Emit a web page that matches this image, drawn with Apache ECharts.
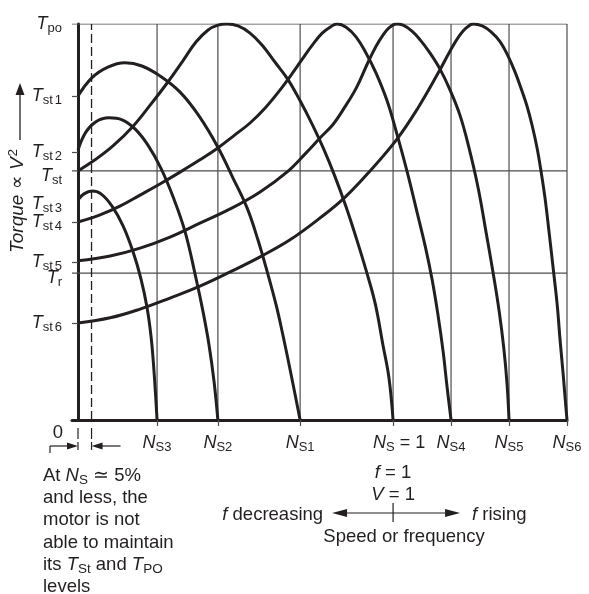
<!DOCTYPE html>
<html><head><meta charset="utf-8">
<script src="https://cdn.jsdelivr.net/npm/echarts@6/dist/echarts.min.js"></script>
<style>html,body{margin:0;padding:0;background:#fff}#c{width:589px;height:594px}</style>
</head><body><div id="c"></div>
<script>
// ---- data (speed in % of base synchronous speed N_S = 1; torque in % of T_po) ----
const speedMarks = [25.1, 44.4, 70.5, 100, 118.4, 136.8, 155.2];
const speedMarkSubs = ['S3', 'S2', 'S1', 'S', 'S4', 'S5', 'S6'];
const torqueMarks = [24.5, 37.1, 39.9, 50.0, 55.3, 62.9, 67.7, 81.8, 100];
const torqueMarkSubs = ['st6', 'r', 'st5', 'st4', 'st3', 'st', 'st2', 'st1', 'po'];
const torqueTickMarks = [24.5, 39.9, 50.0, 67.7, 81.8];
const refTorqueLines = [37.1, 62.9, 100];   // T_r, T_st, T_po
const lowSpeedLimit = 4.3;
const speedStart = -1.9;
const speedEnd = 155.2;

const curveNS3 = [[0,55.6],[1.9,57.1],[4.4,57.8],[7.3,57.1],[10.8,54.0],[14.3,49.0],[17.5,42.4],[20.0,35.6],[21.9,28.5],[23.2,21.0],[24.1,12.6],[25.1,0]];
const curveNS2 = [[0,68.2],[2.5,72.7],[5.7,75.3],[9.8,76.3],[14.0,75.8],[18.1,73.5],[22.2,69.4],[26.3,63.6],[30.2,56.3],[34.0,47.5],[37.5,35.6],[39.7,27.3],[41.6,18.9],[43.2,9.6],[44.4,0]];
const curveNS1 = [[0,81.8],[4.4,86.4],[9.5,89.1],[14.9,90.2],[20.3,89.4],[26.0,86.9],[32.4,82.8],[38.4,76.8],[44.4,68.9],[49.2,61.1],[53.7,53.5],[57.1,45.5],[60.0,37.6],[62.9,29.0],[65.1,21.2],[67.6,11.6],[70.5,0]];
const curveNS0 = [[0,62.9],[5.4,65.7],[11.1,69.2],[17.5,74.2],[22.9,79.5],[28.3,85.1],[33.3,90.7],[37.5,95.5],[41.3,98.5],[44.4,99.7],[47.3,100],[50.8,99.5],[54.6,97.7],[58.4,94.7],[62.5,90.4],[66.7,85.9],[70.5,80.6],[74.3,74.7],[78.1,68.2],[81.6,61.4],[85.1,53.8],[88.3,46.0],[91.4,37.9],[94.3,29.5],[96.8,18.9],[98.7,10.6],[100,0]];
const curveNS4 = [[0,50.0],[7.0,51.8],[13.3,54.0],[19.7,56.8],[26.0,59.6],[32.4,62.6],[38.7,65.7],[44.4,68.7],[49.8,72.0],[54.6,75.0],[59.4,78.8],[64.1,83.3],[67.9,87.4],[71.4,91.4],[74.6,94.9],[77.5,97.7],[80.0,99.2],[82.2,100],[85.1,99.2],[88.3,96.7],[91.4,92.7],[94.6,87.6],[98.1,80.6],[101.3,72.0],[104.4,62.9],[107.6,52.5],[110.2,43.9],[112.4,35.4],[114.3,26.3],[115.9,17.2],[117.1,8.6],[118.4,0]];
const curveNS5 = [[0,40.2],[10.2,41.4],[19.7,43.4],[29.2,46.2],[38.7,49.7],[48.3,53.3],[57.8,57.6],[66.3,62.6],[72.1,67.2],[76.8,71.2],[81.0,74.7],[84.1,78.3],[88.3,83.8],[92.1,90.4],[94.6,94.4],[96.8,97.2],[98.7,99.0],[101.0,100],[103.2,99.7],[106.0,98.2],[108.6,96.0],[111.7,92.7],[114.9,88.6],[118.1,83.3],[121.3,76.8],[124.1,68.7],[127.0,58.6],[129.5,47.5],[131.7,37.4],[133.7,27.3],[135.2,17.7],[136.2,8.8],[136.8,0]];
const curveNS6 = [[0,24.5],[10.2,25.8],[19.7,28.0],[29.2,30.8],[38.7,33.8],[48.3,37.4],[57.8,41.2],[67.3,45.5],[76.8,51.0],[84.8,56.3],[92.7,62.9],[101.3,71.0],[107.9,78.8],[114.3,87.6],[118.1,93.2],[121.0,97.0],[123.2,99.0],[125.4,100],[128.3,99.5],[131.1,98.0],[134.0,95.5],[136.5,91.9],[138.7,87.9],[140.6,83.8],[142.5,79.3],[144.1,74.5],[145.7,68.7],[147.0,62.6],[148.3,55.6],[149.5,47.5],[150.8,38.4],[152.1,29.0],[153.0,20.2],[154.0,11.4],[154.6,5.6],[155.2,0]];
const curves = [curveNS3, curveNS2, curveNS1, curveNS0, curveNS4, curveNS5, curveNS6];

// ---- styling ----
const INK = '#231f20';
const GRIDC = '#4d4d4d';
const F = '"Liberation Sans", Arial, Helvetica, sans-serif';
const BIG = 18, SUB = 13, NOTE = 18.5;

const chart = echarts.init(document.getElementById('c'), null, {renderer: 'canvas'});

const series = [];
speedMarks.forEach(x => series.push({
  type: 'line', data: [[x, 0], [x, 100]], symbol: 'none', silent: true, z: 1,
  lineStyle: {color: GRIDC, width: 1.2}
}));
refTorqueLines.forEach(y => series.push({
  type: 'line', data: [[speedStart, y], [speedEnd, y]], symbol: 'none', silent: true, z: 1,
  lineStyle: {color: GRIDC, width: 1.2}
}));
series.push({
  type: 'line', data: [[lowSpeedLimit, 0], [lowSpeedLimit, 100]], symbol: 'none', silent: true, z: 1,
  lineStyle: {color: INK, width: 1.3, type: [9, 4]}
});
curves.forEach(c => series.push({
  type: 'line', data: c, symbol: 'none', smooth: 0.4, silent: true, z: 3,
  lineStyle: {color: INK, width: 3}
}));

function idx(arr, v) { return arr.findIndex(m => Math.abs(m - v) < 0.01); }

const it = (size, pad) => ({fontSize: size, fontStyle: 'italic', fontFamily: F, color: INK, lineHeight: size, padding: pad || 0});
const up = (size, pad) => ({fontSize: size, fontFamily: F, color: INK, lineHeight: size, padding: pad || 0});
const richBase = {
  T: it(BIG), s: up(SUB, [9, 0, 0, 0]), n: up(SUB, [9, 0, 0, 2]),
  Tl: it(BIG, [10, 0, 0, 0]), sl: up(SUB, [19, 0, 0, 0]),
  Tm: it(BIG, [5, 0, 0, 0]), sm: up(SUB, [14, 0, 0, 0]), nm: up(SUB, [14, 0, 0, 2]),
  N: it(BIG), N0: it(BIG, [0, 0, 0, 12]), e: up(BIG),
  i: it(NOTE), ns: up(SUB + 0.5, [9, 0, 0, 0]),
  iy: it(19), sup: up(SUB + 0.5, [0, 0, 9, 1])
};

chart.setOption({
  animation: false,
  backgroundColor: '#fff',
  grid: {left: 72, right: 22, top: 24, bottom: 174, containLabel: false, outerBoundsMode: 'none'},
  xAxis: {
    type: 'value', min: speedStart, max: speedEnd,
    splitLine: {show: false},
    axisLine: {show: true, onZero: true, lineStyle: {color: INK, width: 3}},
    axisTick: {show: true, customValues: speedMarks, length: 6, lineStyle: {color: GRIDC, width: 1.2}},
    axisLabel: {
      show: true, customValues: speedMarks, margin: 14,
      formatter: v => {
        const sub = speedMarkSubs[idx(speedMarks, v)];
        if (sub === 'S') return '{N0|N}{s|S}{e| = 1}';
        return '{N|N}{s|' + sub + '}';
      },
      rich: richBase
    }
  },
  yAxis: {
    type: 'value', min: 0, max: 100,
    splitLine: {show: false},
    axisLine: {show: true, onZero: true, lineStyle: {color: INK, width: 3}},
    axisTick: {show: true, customValues: torqueTickMarks, length: 6, lineStyle: {color: GRIDC, width: 1.2}},
    axisLabel: {
      show: true, customValues: torqueMarks, margin: 10,
      formatter: v => {
        const sub = torqueMarkSubs[idx(torqueMarks, v)];
        const m = sub.match(/^([a-z]+)(\d?)$/);
        let k = '';
        if (sub === 'st' || sub === 'r') k = 'l';
        else if (sub === 'st3') k = 'm';
        let s = '{T' + k + '|T}{s' + k + '|' + m[1] + '}';
        if (m[2]) s += '{n' + (k === 'm' ? 'm' : '') + '|' + m[2] + '}';
        return s;
      },
      rich: richBase
    }
  },
  series: series
});

// ---- annotations placed from the axes' own scale ----
const o = chart.convertToPixel({gridIndex: 0}, [0, 0]);
const lim = chart.convertToPixel({gridIndex: 0}, [lowSpeedLimit, 0]);
const ns1 = chart.convertToPixel({gridIndex: 0}, [100, 0]);
const ax = o[0], ay = o[1], lx = lim[0], cx = ns1[0];

const txt = (x, y, text, align, extra, size) => Object.assign({
  type: 'text', x: x, y: y, silent: true,
  style: {text: text, fill: INK, fontSize: size || NOTE, fontFamily: F,
    align: align, textAlign: align, verticalAlign: 'middle', textVerticalAlign: 'middle', rich: richBase}
}, extra || {});
const seg = (x1, y1, x2, y2, w, dash) => ({
  type: 'line', silent: true, shape: {x1: x1, y1: y1, x2: x2, y2: y2},
  style: {stroke: INK, lineWidth: w || 1.2, lineDash: dash || null}
});
const tri = (pts) => ({type: 'polygon', silent: true, shape: {points: pts}, style: {fill: INK}});

const ay2 = ay + 26;
const noteX = 43, noteY0 = ay + 56, noteDy = 22.2;
const noteLines = ['At {i|N}{ns|S} \u2243 5%', 'and less, the', 'motor is not', 'able to maintain',
  'its {i|T}{ns|St} and {i|T}{ns|PO}', 'levels'];

const g = [
  // rotated y title with arrow
  txt(18, 201, '{iy|Torque} \u221D {iy|V}{sup|2}', 'center', {rotation: Math.PI / 2}, 19),
  seg(20, 140, 20, 92, 1.3),
  tri([[20, 83], [15.5, 95], [24.5, 95]]),
  // 0 and low-speed zone marker
  txt(ax - 20, ay + 13, '0', 'center'),
  seg(ax, ay + 8, ax, ay + 19, 1.2), seg(ax, ay + 22, ax, ay + 30, 1.2),
  seg(lx, ay + 8, lx, ay + 19, 1.2), seg(lx, ay + 22, lx, ay + 30, 1.2),
  seg(ax - 28, ay2, ax - 8, ay2, 1.2), seg(ax - 28, ay2, ax - 28, ay2 + 7, 1.2),
  tri([[ax, ay2], [ax - 11, ay2 - 3.5], [ax - 11, ay2 + 3.5]]),
  seg(lx + 8, ay2, lx + 29, ay2, 1.2),
  tri([[lx, ay2], [lx + 11, ay2 - 3.5], [lx + 11, ay2 + 3.5]]),
  // base point labels
  txt(cx, ay + 53, '{i|f} = 1', 'center'),
  txt(cx, ay + 75, '{i|V} = 1', 'center'),
  seg(cx - 48, ay + 93, cx + 52, ay + 93, 1.2),
  tri([[cx - 61, ay + 93], [cx - 46, ay + 89], [cx - 46, ay + 97]]),
  tri([[cx + 67, ay + 93], [cx + 52, ay + 89], [cx + 52, ay + 97]]),
  seg(cx, ay + 83, cx, ay + 102, 1.2),
  txt(cx - 70, ay + 95, '{i|f} decreasing', 'right'),
  txt(cx + 79, ay + 95, '{i|f} rising', 'left'),
  txt(cx + 11, ay + 117, 'Speed or frequency', 'center')
];
noteLines.forEach((t, k) => g.push(txt(noteX, noteY0 + k * noteDy, t, 'left')));
chart.setOption({graphic: {elements: g}});
</script>
</body></html>
